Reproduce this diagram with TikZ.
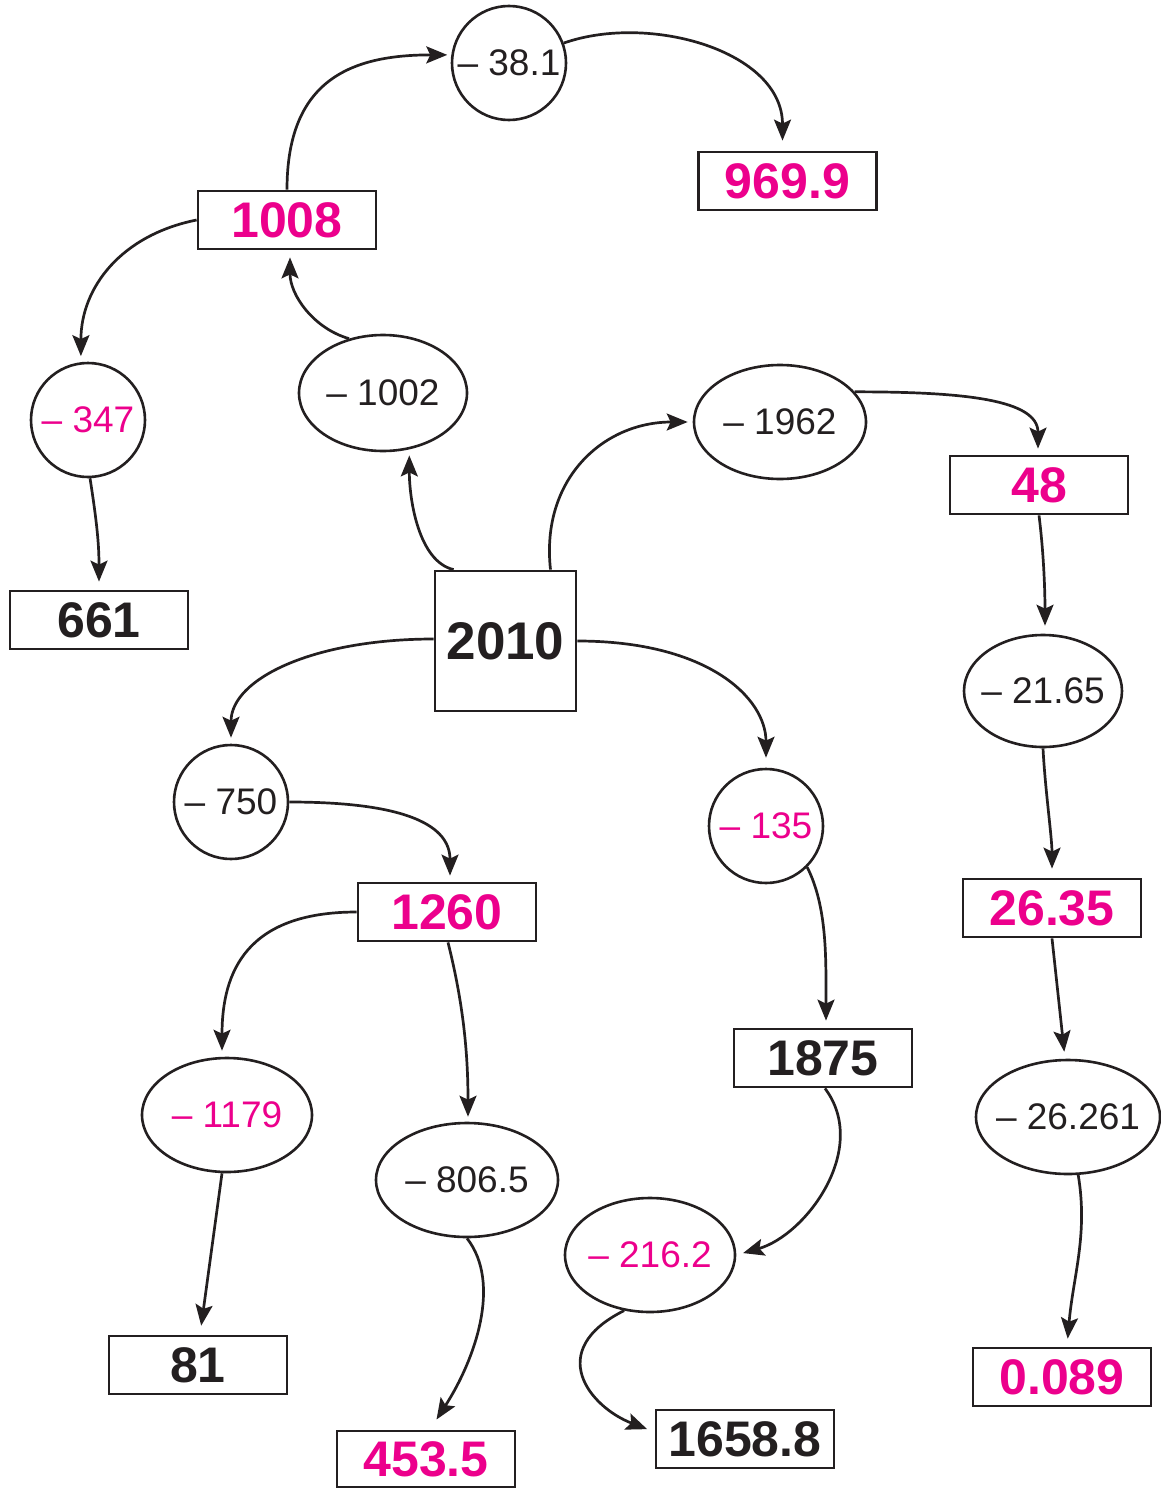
\documentclass[tikz,border=0pt]{standalone}
\usepackage{fontspec}
\setmainfont{Liberation Sans}
\usetikzlibrary{arrows.meta,calc,shapes.geometric}
\definecolor{mag}{RGB}{236,0,140}
\definecolor{ink}{RGB}{35,31,32}
\begin{document}
\begin{tikzpicture}[x=1pt,y=-1pt,
 box/.style={draw=ink, line width=2.8pt, rectangle, minimum width=178pt, minimum height=58pt, inner sep=0pt, font=\fontsize{50}{50}\selectfont\bfseries},
 ell/.style={draw=ink, line width=2.6pt, ellipse, inner sep=0pt, font=\fontsize{37}{37}\selectfont},
 arr/.style={draw=ink, line width=2.7pt, -{Stealth[length=21pt,width=17pt,inset=4pt]}},
]
\useasboundingbox (0,0) rectangle (1161,1488);
% boxes
\node[box, text=mag] (b9699) at (787.5,181) {969.9};
\node[box, text=mag] (b1008) at (287,220) {1008};
\node[box, text=ink] (b661) at (99,620) {661};
\node[box, text=ink, minimum width=141pt, minimum height=140pt, font=\fontsize{53}{53}\selectfont\bfseries] (b2010) at (505.5,641) {2010};
\node[box, text=mag] (b48) at (1039,485) {48};
\node[box, text=mag] (b1260) at (447,912) {1260};
\node[box, text=mag] (b2635) at (1052,908) {26.35};
\node[box, text=ink] (b1875) at (823,1058) {1875};
\node[box, text=ink] (b81) at (198,1365) {81};
\node[box, text=mag, minimum height=56pt] (b4535) at (426,1459) {453.5};
\node[box, text=ink] (b16588) at (745,1439) {1658.8};
\node[box, text=mag] (b0089) at (1062,1377) {0.089};
% ellipses
\node[ell, text=ink, minimum width=114pt, minimum height=114pt] (c38) at (509,63) {\makebox[0pt]{\textendash\ 38.1}};
\node[ell, text=mag, minimum width=114pt, minimum height=114pt] (c347) at (88,420) {\makebox[0pt]{\textendash\ 347}};
\node[ell, text=ink, minimum width=168pt, minimum height=116pt] (e1002) at (383,393) {\makebox[0pt]{\textendash\ 1002}};
\node[ell, text=ink, minimum width=172pt, minimum height=114pt] (e1962) at (780,422) {\makebox[0pt]{\textendash\ 1962}};
\node[ell, text=ink, minimum width=158pt, minimum height=112pt] (e2165) at (1043,691) {\makebox[0pt]{\textendash\ 21.65}};
\node[ell, text=ink, minimum width=114pt, minimum height=114pt] (c750) at (231,802) {\makebox[0pt]{\textendash\ 750}};
\node[ell, text=mag, minimum width=114pt, minimum height=114pt] (c135) at (766,826) {\makebox[0pt]{\textendash\ 135}};
\node[ell, text=mag, minimum width=170pt, minimum height=114pt] (e1179) at (227,1115) {\makebox[0pt]{\textendash\ 1179}};
\node[ell, text=ink, minimum width=182pt, minimum height=114pt] (e8065) at (467,1180) {\makebox[0pt]{\textendash\ 806.5}};
\node[ell, text=mag, minimum width=170pt, minimum height=114pt] (e2162) at (650,1255) {\makebox[0pt]{\textendash\ 216.2}};
\node[ell, text=ink, minimum width=184pt, minimum height=114pt] (e26261) at (1068,1117) {\makebox[0pt]{\textendash\ 26.261}};
% connectors
\draw[arr, shorten >=4pt] (b1008.north) .. controls +(0,-110) and +(-100,0) .. (c38.172);
\draw[arr, shorten >=10pt] (c38.20) .. controls +(85,-30) and +(0,-100) .. ($(b9699.north)+(-5,0)$);
\draw[arr, shorten >=6pt] (b1008.west) .. controls +(-75,15) and +(0,-75) .. (c347.97);
\draw[arr, shorten >=8pt] (c347.-88) .. controls +(7,45) and +(0,-45) .. (b661.north);
\draw[arr, shorten >=7pt] (e1002.122) .. controls +(-35,-10) and +(0,45) .. ($(b1008.south)+(3,0)$);
\draw[arr, shorten >=6pt] ($(b2010.north west)+(20,0)$) .. controls +(-35,-8) and +(0,50) .. (e1002.-65);
\draw[arr, shorten >=5pt] ($(b2010.north)+(45,0)$) .. controls +(-10,-90) and +(-90,0) .. (e1962.west);
\draw[arr, shorten >=6pt] (e1962.22) .. controls +(110,0) and +(0,-55) .. ($(b48.north)+(-1,0)$);
\draw[arr, shorten >=8pt] (b48.south) .. controls +(5,40) and +(0,-40) .. ($(e2165.north)+(2,0)$);
\draw[arr, shorten >=9pt] (e2165.south) .. controls +(2,40) and +(0,-40) .. (b2635.north);
\draw[arr, shorten >=7pt] (b2635.south) -- ($(e26261.north)+(-3,0)$);
\draw[arr, shorten >=8pt] (e26261.-80) .. controls +(10,60) and +(6,-70) .. ($(b0089.north)+(5,0)$);
\draw[arr, shorten >=6pt] ($(b2010.west)+(0,-2)$) .. controls +(-120,0) and +(0,-65) .. (c750.north);
\draw[arr, shorten >=10pt] (b2010.east) .. controls +(130,0) and +(0,-70) .. (c135.north);
\draw[arr, shorten >=6pt] (c750.east) .. controls +(120,0) and +(0,-55) .. ($(b1260.north)+(3,0)$);
\draw[arr, shorten >=6pt] (b1260.west) .. controls +(-110,0) and +(0,-85) .. ($(e1179.north)+(-5,0)$);
\draw[arr, shorten >=5pt] ($(b1260.south)+(1,0)$) .. controls +(15,60) and +(0,-70) .. ($(e8065.north)+(1,0)$);
\draw[arr, shorten >=9pt] ($(e1179.south)+(-5,0)$) -- ($(b81.north)+(2,0)$);
\draw[arr, shorten >=12pt] (e8065.south) .. controls +(35,45) and +(45,-70) .. ($(b4535.north)+(4,0)$);
\draw[arr, shorten >=7pt] (c135.-45) .. controls +(20,40) and +(0,-70) .. ($(b1875.north)+(3,0)$);
\draw[arr, shorten >=7pt] ($(b1875.south)+(2,0)$) .. controls +(45,60) and +(70,-20) .. (e2162.east);
\draw[arr, shorten >=8pt] (e2162.-115) .. controls +(-80,40) and +(-65,-25) .. ($(b16588.west)+(0,-7)$);
\end{tikzpicture}
\end{document}
